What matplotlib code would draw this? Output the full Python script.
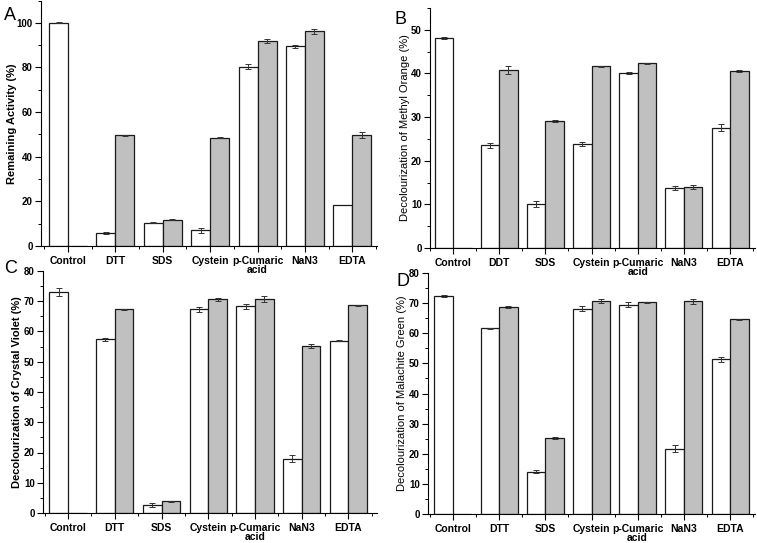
import matplotlib
matplotlib.use("Agg")
import matplotlib.pyplot as plt
import numpy as np
from matplotlib.ticker import MultipleLocator

plt.rcParams['font.family'] = ['Liberation Sans', 'DejaVu Sans']

cats_a = ["Control", "DTT", "SDS", "Cystein", "p-Cumaric\nacid", "NaN3", "EDTA"]
cats_b = ["Control", "DDT", "SDS", "Cystein", "p-Cumaric\nacid", "NaN3", "EDTA"]

# Panel A: Remaining activity
a_white = [100.0, 5.9, 10.4, 7.0, 80.3, 89.4, 18.2]
a_white_err = [0.3, 0.3, 0.3, 1.0, 1.2, 0.5, 0.0]
a_gray = [0.0, 49.7, 11.8, 48.5, 91.8, 96.2, 49.7]
a_gray_err = [0.0, 0.2, 0.3, 0.2, 0.8, 1.0, 1.2]

# Panel B: Methyl Orange
b_white = [48.1, 23.5, 10.1, 23.9, 40.1, 13.7, 27.6]
b_white_err = [0.3, 0.5, 0.6, 0.5, 0.3, 0.4, 0.8]
b_gray = [0.0, 40.7, 29.1, 41.6, 42.3, 14.0, 40.6]
b_gray_err = [0.0, 0.9, 0.3, 0.2, 0.2, 0.5, 0.2]

# Panel C: Crystal Violet
c_white = [73.0, 57.4, 2.7, 67.3, 68.4, 18.0, 57.0]
c_white_err = [1.3, 0.4, 0.6, 0.7, 0.8, 1.1, 0.3]
c_gray = [0.0, 67.3, 3.9, 70.6, 70.9, 55.3, 68.6]
c_gray_err = [0.0, 0.3, 0.2, 0.4, 1.0, 0.7, 0.2]

# Panel D: Malachite Green
d_white = [72.3, 61.7, 14.1, 68.1, 69.5, 21.7, 51.3]
d_white_err = [0.4, 0.2, 0.6, 0.8, 0.9, 1.1, 0.8]
d_gray = [0.0, 68.6, 25.3, 70.8, 70.3, 70.6, 64.6]
d_gray_err = [0.0, 0.3, 0.3, 0.7, 0.2, 0.9, 0.2]

W, H = 757, 543
fig = plt.figure(figsize=(W / 100, H / 100), dpi=100)


def make_ax(x0, x1, ytop, ybot):
    ax = fig.add_axes([x0 / W, 1 - ybot / H, (x1 - x0) / W, (ybot - ytop) / H])
    ax.patch.set_visible(False)
    return ax


def draw(ax, cats, white, werr, gray, gerr, ylim, xlim, major, ylabel, bold_label,
         label_x, letter, letter_pos):
    x = np.arange(len(cats))
    bw = 0.4
    ax.bar(x - bw / 2, white, width=bw, color='white', edgecolor='#1a1a1a', linewidth=0.9, zorder=2)
    ax.bar(x + bw / 2, gray, width=bw, color='#c0c0c0', edgecolor='#1a1a1a', linewidth=0.9, zorder=2)
    for xi, v, e in zip(x - bw / 2, white, werr):
        if e > 0:
            ax.errorbar(xi, v, yerr=e, fmt='none', ecolor='#333333', elinewidth=0.7,
                        capsize=2.5, capthick=0.7, zorder=3)
    for xi, v, e in zip(x + bw / 2, gray, gerr):
        if e > 0:
            ax.errorbar(xi, v, yerr=e, fmt='none', ecolor='#333333', elinewidth=0.7,
                        capsize=2.5, capthick=0.7, zorder=3)
    ax.set_xlim(*xlim)
    ax.set_ylim(*ylim)
    ax.set_xticks(x)
    ax.set_xticklabels(cats, fontsize=7.5, fontweight='bold', linespacing=0.85)
    ax.set_xticks(np.r_[-0.5, x + 0.5], minor=True)
    ax.yaxis.set_major_locator(MultipleLocator(major))
    ax.yaxis.set_minor_locator(MultipleLocator(major / 2))
    ax.tick_params(axis='both', which='major', direction='out', length=4, width=0.8, pad=2)
    ax.tick_params(axis='x', which='major', pad=3.5)
    ax.tick_params(axis='both', which='minor', direction='out', length=2.5, width=0.7)
    ax.tick_params(axis='y', labelsize=7)
    for t in ax.get_yticklabels():
        t.set_fontweight('bold')
    ax.spines['top'].set_visible(False)
    ax.spines['right'].set_visible(False)
    ax.spines['left'].set_linewidth(0.8)
    ax.spines['bottom'].set_linewidth(0.8)
    ax.set_ylabel(ylabel, fontsize=8, fontweight='bold' if bold_label else 'normal')
    ax.yaxis.set_label_coords(label_x, 0.5)
    fig.text(letter_pos[0] / W, 1 - letter_pos[1] / H, letter, fontsize=13, ha='left', va='center')


axA = make_ax(41, 377, 0.5, 246)
draw(axA, cats_a, a_white, a_white_err, a_gray, a_gray_err, (0, 110), (-0.57, 6.52), 20,
     "Remaining Activity (%)", True, -0.071, "A", (4, 15))

axB = make_ax(430, 755, 8, 248)
draw(axB, cats_b, b_white, b_white_err, b_gray, b_gray_err, (0, 55), (-0.5, 6.54), 10,
     "Decolourization of Methyl Orange (%)", False, -0.062, "B", (394, 19))

axC = make_ax(43, 377, 271, 513)
draw(axC, cats_a, c_white, c_white_err, c_gray, c_gray_err, (0, 80), (-0.535, 6.61), 10,
     "Decolourization of Crystal Violet (%)", True, -0.063, "C", (4, 268))

axD = make_ax(428, 755, 273, 514)
draw(axD, cats_a, d_white, d_white_err, d_gray, d_gray_err, (0, 80), (-0.54, 6.54), 10,
     "Decolourization of Malachite Green (%)", False, -0.064, "D", (396, 281))

fig.savefig("out.png", dpi=100)
